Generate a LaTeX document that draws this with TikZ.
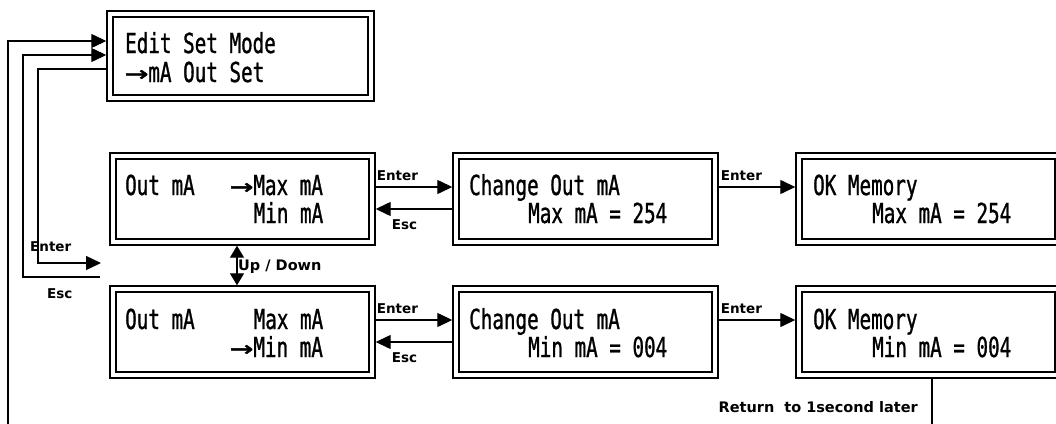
\documentclass[tikz,border=0pt]{standalone}
\usepackage{fontspec}
\usepackage{graphicx}
\usetikzlibrary{arrows.meta}
\newfontfamily\lcdfont[FakeStretch=0.70,FakeBold=1]{DejaVu Sans Mono}
\newfontfamily\lblfont{DejaVu Sans}
\newcommand\lcdarrow{\scalebox{2}[1]{→}}
\begin{document}
\begin{tikzpicture}[x=1pt,y=-1pt,
  lcdbox/.style={draw=black, line width=1.4pt, double=white, double distance=4.6pt,
    minimum width=259pt, minimum height=86pt, inner sep=0pt, outer sep=3.7pt},
  lcdtxt/.style={anchor=base west, inner sep=0pt, font=\lcdfont\fontsize{27.5}{30}\selectfont},
  lbl/.style={inner sep=0pt, font=\lblfont\bfseries\fontsize{13.5}{15}\selectfont},
  lblwide/.style={inner sep=0pt, font=\lblfont\bfseries\fontsize{14.5}{16}\selectfont},
  conn/.style={draw=black, line width=1.3pt, -{Triangle[length=15pt,width=14pt]}},
  updown/.style={draw=black, line width=1.3pt, {Triangle[length=12pt,width=14pt]}-{Triangle[length=12pt,width=14pt]}}
]
\useasboundingbox[fill=white] (0,0) rectangle (1056,423);

% boxes
\node[lcdbox, minimum width=261pt, minimum height=84pt] (T) at (240.5,56) {};
\node[lcdbox] (A1) at (242.5,199) {};
\node[lcdbox] (B1) at (585.5,199) {};
\node[lcdbox] (C1) at (928.5,199) {};
\node[lcdbox] (A2) at (242.5,332) {};
\node[lcdbox] (B2) at (585.5,332) {};
\node[lcdbox] (C2) at (928.5,332) {};

% texts
\node[lcdtxt] (t1) at (125,53) {Edit Set Mode};
\node[lcdtxt] (t2) at (125,82) {\lcdarrow mA Out Set};

\node[lcdtxt] (a1a) at (125,195) {Out mA};
\node[lcdtxt] (a1b) at (230,195) {\lcdarrow Max mA};
\node[lcdtxt] (a1c) at (253.5,223) {Min mA};
\node[lcdtxt] (b1a) at (469,195) {Change Out mA};
\node[lcdtxt] (b1b) at (528,223) {Max mA = 254};
\node[lcdtxt] (c1a) at (813,195) {OK Memory};
\node[lcdtxt] (c1b) at (872,223) {Max mA = 254};

\node[lcdtxt] (a2a) at (125,329) {Out mA};
\node[lcdtxt] (a2b) at (253.5,329) {Max mA};
\node[lcdtxt] (a2c) at (230,357) {\lcdarrow Min mA};
\node[lcdtxt] (b2a) at (469,329) {Change Out mA};
\node[lcdtxt] (b2b) at (528,357) {Min mA = 004};
\node[lcdtxt] (c2a) at (813,329) {OK Memory};
\node[lcdtxt] (c2b) at (872,357) {Min mA = 004};

% horizontal connectors row 1
\draw[conn] ([yshift=12pt]A1.east) -- ([yshift=12pt]B1.west);
\draw[conn] ([yshift=-10pt]B1.west) -- ([yshift=-10pt]A1.east);
\draw[conn] ([yshift=12pt]B1.east) -- ([yshift=12pt]C1.west);
\node[lbl, anchor=south west] (e1) at ([xshift=1pt,yshift=18pt]A1.east) {Enter};
\node[lbl, anchor=north west] (s1) at ([xshift=16pt,yshift=-20pt]A1.east) {Esc};
\node[lbl, anchor=south west] (e2) at ([xshift=2pt,yshift=18pt]B1.east) {Enter};

% horizontal connectors row 2
\draw[conn] ([yshift=12pt]A2.east) -- ([yshift=12pt]B2.west);
\draw[conn] ([yshift=-10pt]B2.west) -- ([yshift=-10pt]A2.east);
\draw[conn] ([yshift=12pt]B2.east) -- ([yshift=12pt]C2.west);
\node[lbl, anchor=south west] (e3) at ([xshift=1pt,yshift=18pt]A2.east) {Enter};
\node[lbl, anchor=north west] (s2) at ([xshift=16pt,yshift=-20pt]A2.east) {Esc};
\node[lbl, anchor=south west] (e4) at ([xshift=2pt,yshift=18pt]B2.east) {Enter};

% up / down
\draw[updown] ([xshift=-5.5pt]A1.south) -- ([xshift=-5.5pt]A2.north);
\node[lblwide, anchor=west] (ud) at (238,267) {Up / Down};

% left loop lines
\coordinate (enterend) at (101,263);
\coordinate (escstart) at (100,277);
\draw[conn] ([yshift=-13pt]T.west) -| (38,263) -- (enterend);
\draw[conn] (escstart) -| (23,55) -- ([yshift=1pt]T.west);
\node[lbl, anchor=base west] (el) at (30,251) {Enter};
\node[lbl, anchor=base west] (sl) at (47,298) {Esc};

% return line
\draw[conn] ([xshift=3.5pt]C2.south) -- ++(0,62) -| (8,41) -- ([yshift=15pt]T.west);
\node[lblwide, anchor=base east] (ret) at (918,412) {Return\hspace{10pt}to 1second later};
\end{tikzpicture}
\end{document}
